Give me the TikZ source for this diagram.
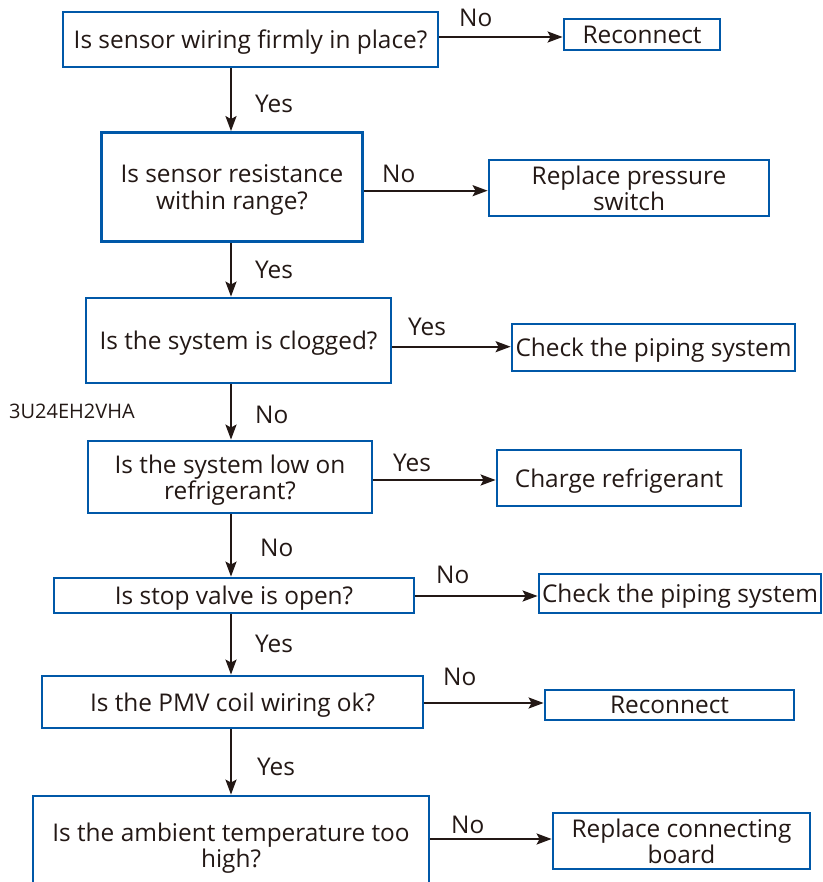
\documentclass[tikz,border=0pt]{standalone}
\usepackage{fontspec}
\setmainfont{Open Sans}
\usetikzlibrary{arrows.meta}
\definecolor{boxblue}{RGB}{0,88,168}
\definecolor{ink}{RGB}{35,24,21}
\begin{document}
\begin{tikzpicture}[x=1pt,y=-1pt,
 qbox/.style={draw=boxblue,line width=2.8pt,align=center,inner sep=0pt,text depth=0pt,text=ink,font=\fontsize{24.4}{26.5}\selectfont},
 lbl/.style={text=ink,font=\fontsize{24.4}{26.5}\selectfont,anchor=base west,inner sep=0pt},
 arr/.style={draw=ink,line width=2.2pt,-{Stealth[length=15pt,width=11pt,inset=3pt]}}]
\useasboundingbox (0,0) rectangle (822,882);
% question boxes
\node[qbox,minimum width=375,minimum height=55] (B1) at (250.5,39.5) {Is sensor wiring firmly in place?};
\node[qbox,minimum width=261,minimum height=109] (B2) at (232,187) {Is sensor resistance\\within range?};
\node[qbox,minimum width=305,minimum height=85] (B3) at (238.5,340.5) {Is the system is clogged?};
\node[qbox,minimum width=284,minimum height=72] (B4) at (230,477) {Is the system low on\\refrigerant?};
\node[qbox,minimum width=360,minimum height=35] (B5) at (234,595.5) {Is stop valve is open?};
\node[qbox,minimum width=381,minimum height=52] (B6) at (232.5,702) {Is the PMV coil wiring ok?};
\node[qbox,minimum width=396,minimum height=98] (B7) at (231,845) {Is the ambient temperature too\\high?};
% result boxes
\node[qbox,minimum width=156,minimum height=31] (R1) at (642,34.5) {Reconnect};
\node[qbox,minimum width=280,minimum height=56] (R2) at (629,188) {Replace pressure\\switch};
\node[qbox,minimum width=283,minimum height=47] (R3) at (653.5,347.5) {Check the piping system};
\node[qbox,minimum width=244,minimum height=56] (R4) at (619,478) {Charge refrigerant};
\node[qbox,minimum width=282,minimum height=39] (R5) at (680,593.5) {Check the piping system};
\node[qbox,minimum width=249,minimum height=30] (R6) at (669.5,705) {Reconnect};
\node[qbox,minimum width=257,minimum height=56] (R7) at (681.5,841) {Replace connecting\\board};
% model code
\node[text=ink,font=\fontsize{20}{22}\selectfont,anchor=base west,inner sep=0pt] (code) at (9,418) {3U24EH2VHA};
% vertical arrows
\draw[arr] (B1.south -| 231,0) -- (B2.north -| 231,0);
\draw[arr] (B2.south -| 231,0) -- (B3.north -| 231,0);
\draw[arr] (B3.south -| 231,0) -- (B4.north -| 231,0);
\draw[arr] (B4.south -| 231,0) -- (B5.north -| 231,0);
\draw[arr] (B5.south -| 231,0) -- (B6.north -| 231,0);
\draw[arr] (B6.south -| 231,0) -- (B7.north -| 231,0);
% horizontal arrows
\draw[arr] (B1.east |- 0,37) -- (R1.west |- 0,37);
\draw[arr] (B2.east |- 0,190.7) -- (R2.west |- 0,190.7);
\draw[arr] (B3.east |- 0,346.7) -- (R3.west |- 0,346.7);
\draw[arr] (B4.east |- 0,480) -- (R4.west |- 0,480);
\draw[arr] (B5.east |- 0,596) -- (R5.west |- 0,596);
\draw[arr] (B6.east |- 0,703) -- (R6.west |- 0,703);
\draw[arr] (B7.east |- 0,839) -- (R7.west |- 0,839);
% labels
\node[lbl] (n1) at (459,27) {No};
\node[lbl] (y1) at (255,113) {Yes};
\node[lbl] (n2) at (382,183) {No};
\node[lbl] (y2) at (255,279) {Yes};
\node[lbl] (y3) at (408,335) {Yes};
\node[lbl] (n3) at (255,423) {No};
\node[lbl] (y4) at (393,471) {Yes};
\node[lbl] (n4) at (260,556) {No};
\node[lbl] (n5) at (436,583) {No};
\node[lbl] (y5) at (255,652) {Yes};
\node[lbl] (n6) at (443,685) {No};
\node[lbl] (y6) at (257,775) {Yes};
\node[lbl] (n7) at (451,833) {No};
\end{tikzpicture}
\end{document}
